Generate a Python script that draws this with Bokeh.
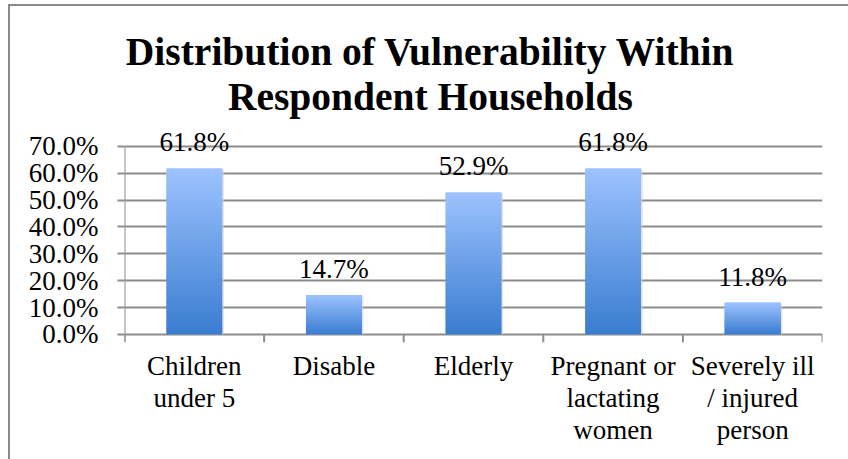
import numpy as np
from bokeh.plotting import figure
from bokeh.models import (ColumnDataSource, FixedTicker, NumeralTickFormatter,
                          LabelSet, Label)
from bokeh.embed import file_html
from bokeh.resources import INLINE

# --- data ---------------------------------------------------------------
categories = ["Children\nunder 5", "Disable", "Elderly",
              "Pregnant or\nlactating\nwomen", "Severely ill\n/ injured\nperson"]
shares = [0.618, 0.147, 0.529, 0.618, 0.118]
y_ticks = [0.0, 0.1, 0.2, 0.3, 0.4, 0.5, 0.6, 0.7]
title_lines = ["Distribution of Vulnerability Within", "Respondent Households"]

# --- style --------------------------------------------------------------
SERIF = "Liberation Serif"
GRID = "#8c8c8c"
FRAME = "#8a8a8a"
TOP_RGB = np.array([157, 195, 255])
BOT_RGB = np.array([58, 124, 208])
BAR_W = 0.40
N_SLICES = 60

# page geometry (pixels)
OX, OY = 8, 4            # outer chart border position
BW = 2                   # border width
PLOT_L, PLOT_R = 124, 820
Y_TOP_PX, Y_ZERO_PX = 145, 332   # pixel rows of 70% and 0%
TICK_PX = 8

n = len(categories)
centers = [i + 0.5 for i in range(n)]
y_max = y_ticks[-1]
px_per_unit = (Y_ZERO_PX - Y_TOP_PX) / y_max
y_lo = -TICK_PX / px_per_unit
canvas_top = OY + BW
y_hi = y_max + (Y_TOP_PX - canvas_top) / px_per_unit

W, H = 848 - OX, 459 - OY
p = figure(width=W, height=H, x_range=(0, n), y_range=(y_lo, y_hi),
           output_backend="svg", toolbar_location=None,
           min_border_left=PLOT_L - OX - BW, min_border_right=848 - PLOT_R,
           min_border_top=0,
           min_border_bottom=459 - (Y_ZERO_PX + TICK_PX))
p.margin = (OY, 0, 0, OX)
p.styles = {"border-left": f"{BW}px solid {FRAME}",
            "border-top": f"{BW}px solid {FRAME}",
            "box-sizing": "border-box"}
p.outline_line_color = None
p.background_fill_color = "white"
p.border_fill_color = "white"

# horizontal gridlines
p.xgrid.visible = False
p.ygrid.ticker = FixedTicker(ticks=y_ticks)
p.ygrid.grid_line_color = GRID
p.ygrid.grid_line_width = 2

# value axis
yax = p.yaxis[0]
yax.ticker = FixedTicker(ticks=y_ticks)
yax.formatter = NumeralTickFormatter(format="0.0%")
yax.axis_line_color = None
yax.major_tick_line_color = GRID
yax.major_tick_line_width = 2
yax.major_tick_out = 7
yax.major_tick_in = 0
yax.minor_tick_line_color = None
yax.major_label_standoff = 19
yax.major_label_text_font = SERIF
yax.major_label_text_font_size = "27px"
yax.major_label_text_color = "black"

# category axis (labels only, centered under bars)
xax = p.xaxis[0]
xax.ticker = FixedTicker(ticks=centers)
xax.major_label_overrides = {c: lab for c, lab in zip(centers, categories)}
xax.axis_line_color = None
xax.major_tick_line_color = None
xax.minor_tick_line_color = None
xax.major_label_standoff = 2
xax.major_label_text_font = SERIF
xax.major_label_text_font_size = "27px"
xax.major_label_text_color = "black"
xax.major_label_text_line_height = 1.07

# value-axis line, running from the category tick ends up to 70%
p.segment(x0=[0], y0=[y_lo], x1=[0], y1=[y_max], line_color=GRID, line_width=2)

# tick marks between categories
edges = list(range(n + 1))
p.segment(x0=edges, y0=[0] * len(edges), x1=edges, y1=[y_lo] * len(edges),
          line_color=GRID, line_width=2)

# soft bar shadows
p.vbar(x=[c + 0.012 for c in centers], top=[v - 0.004 for v in shares],
       bottom=0, width=BAR_W, fill_color="#cfcfcf", fill_alpha=0.6,
       line_color=None)

# gradient bars, built from stacked slices of each value
overlap = 1.5 / px_per_unit
xs, bots, tops, cols = [], [], [], []
for c, v in zip(centers, shares):
    for j in range(N_SLICES):
        t = (j + 0.5) / N_SLICES
        rgb = BOT_RGB * (1 - t) + TOP_RGB * t
        xs.append(c)
        bots.append(v * j / N_SLICES)
        tops.append(min(v, v * (j + 1) / N_SLICES + overlap))
        cols.append("#%02x%02x%02x" % tuple(int(round(k)) for k in rgb))
p.vbar(x=xs, bottom=bots, top=tops, width=BAR_W, fill_color=cols,
       line_color=None)

# value labels
src = ColumnDataSource(dict(x=centers, y=shares,
                            txt=["%.1f%%" % (v * 100) for v in shares]))
p.add_layout(LabelSet(x="x", y="y", text="txt", source=src, y_offset=17,
                      text_align="center", text_baseline="alphabetic",
                      text_font=SERIF, text_font_size="27px",
                      text_color="black"))

# two-line title
title_x = (429 - PLOT_L) / (PLOT_R - PLOT_L) * n
for txt, py in zip(title_lines, [51, 96]):
    ty = y_max + (Y_TOP_PX - py) / px_per_unit
    p.add_layout(Label(x=title_x, y=ty, text=txt, text_align="center",
                       text_baseline="alphabetic", text_font=SERIF,
                       text_font_style="bold", text_font_size="39.5px",
                       text_color="black"))

open("out.html", "w").write(file_html(p, INLINE))
